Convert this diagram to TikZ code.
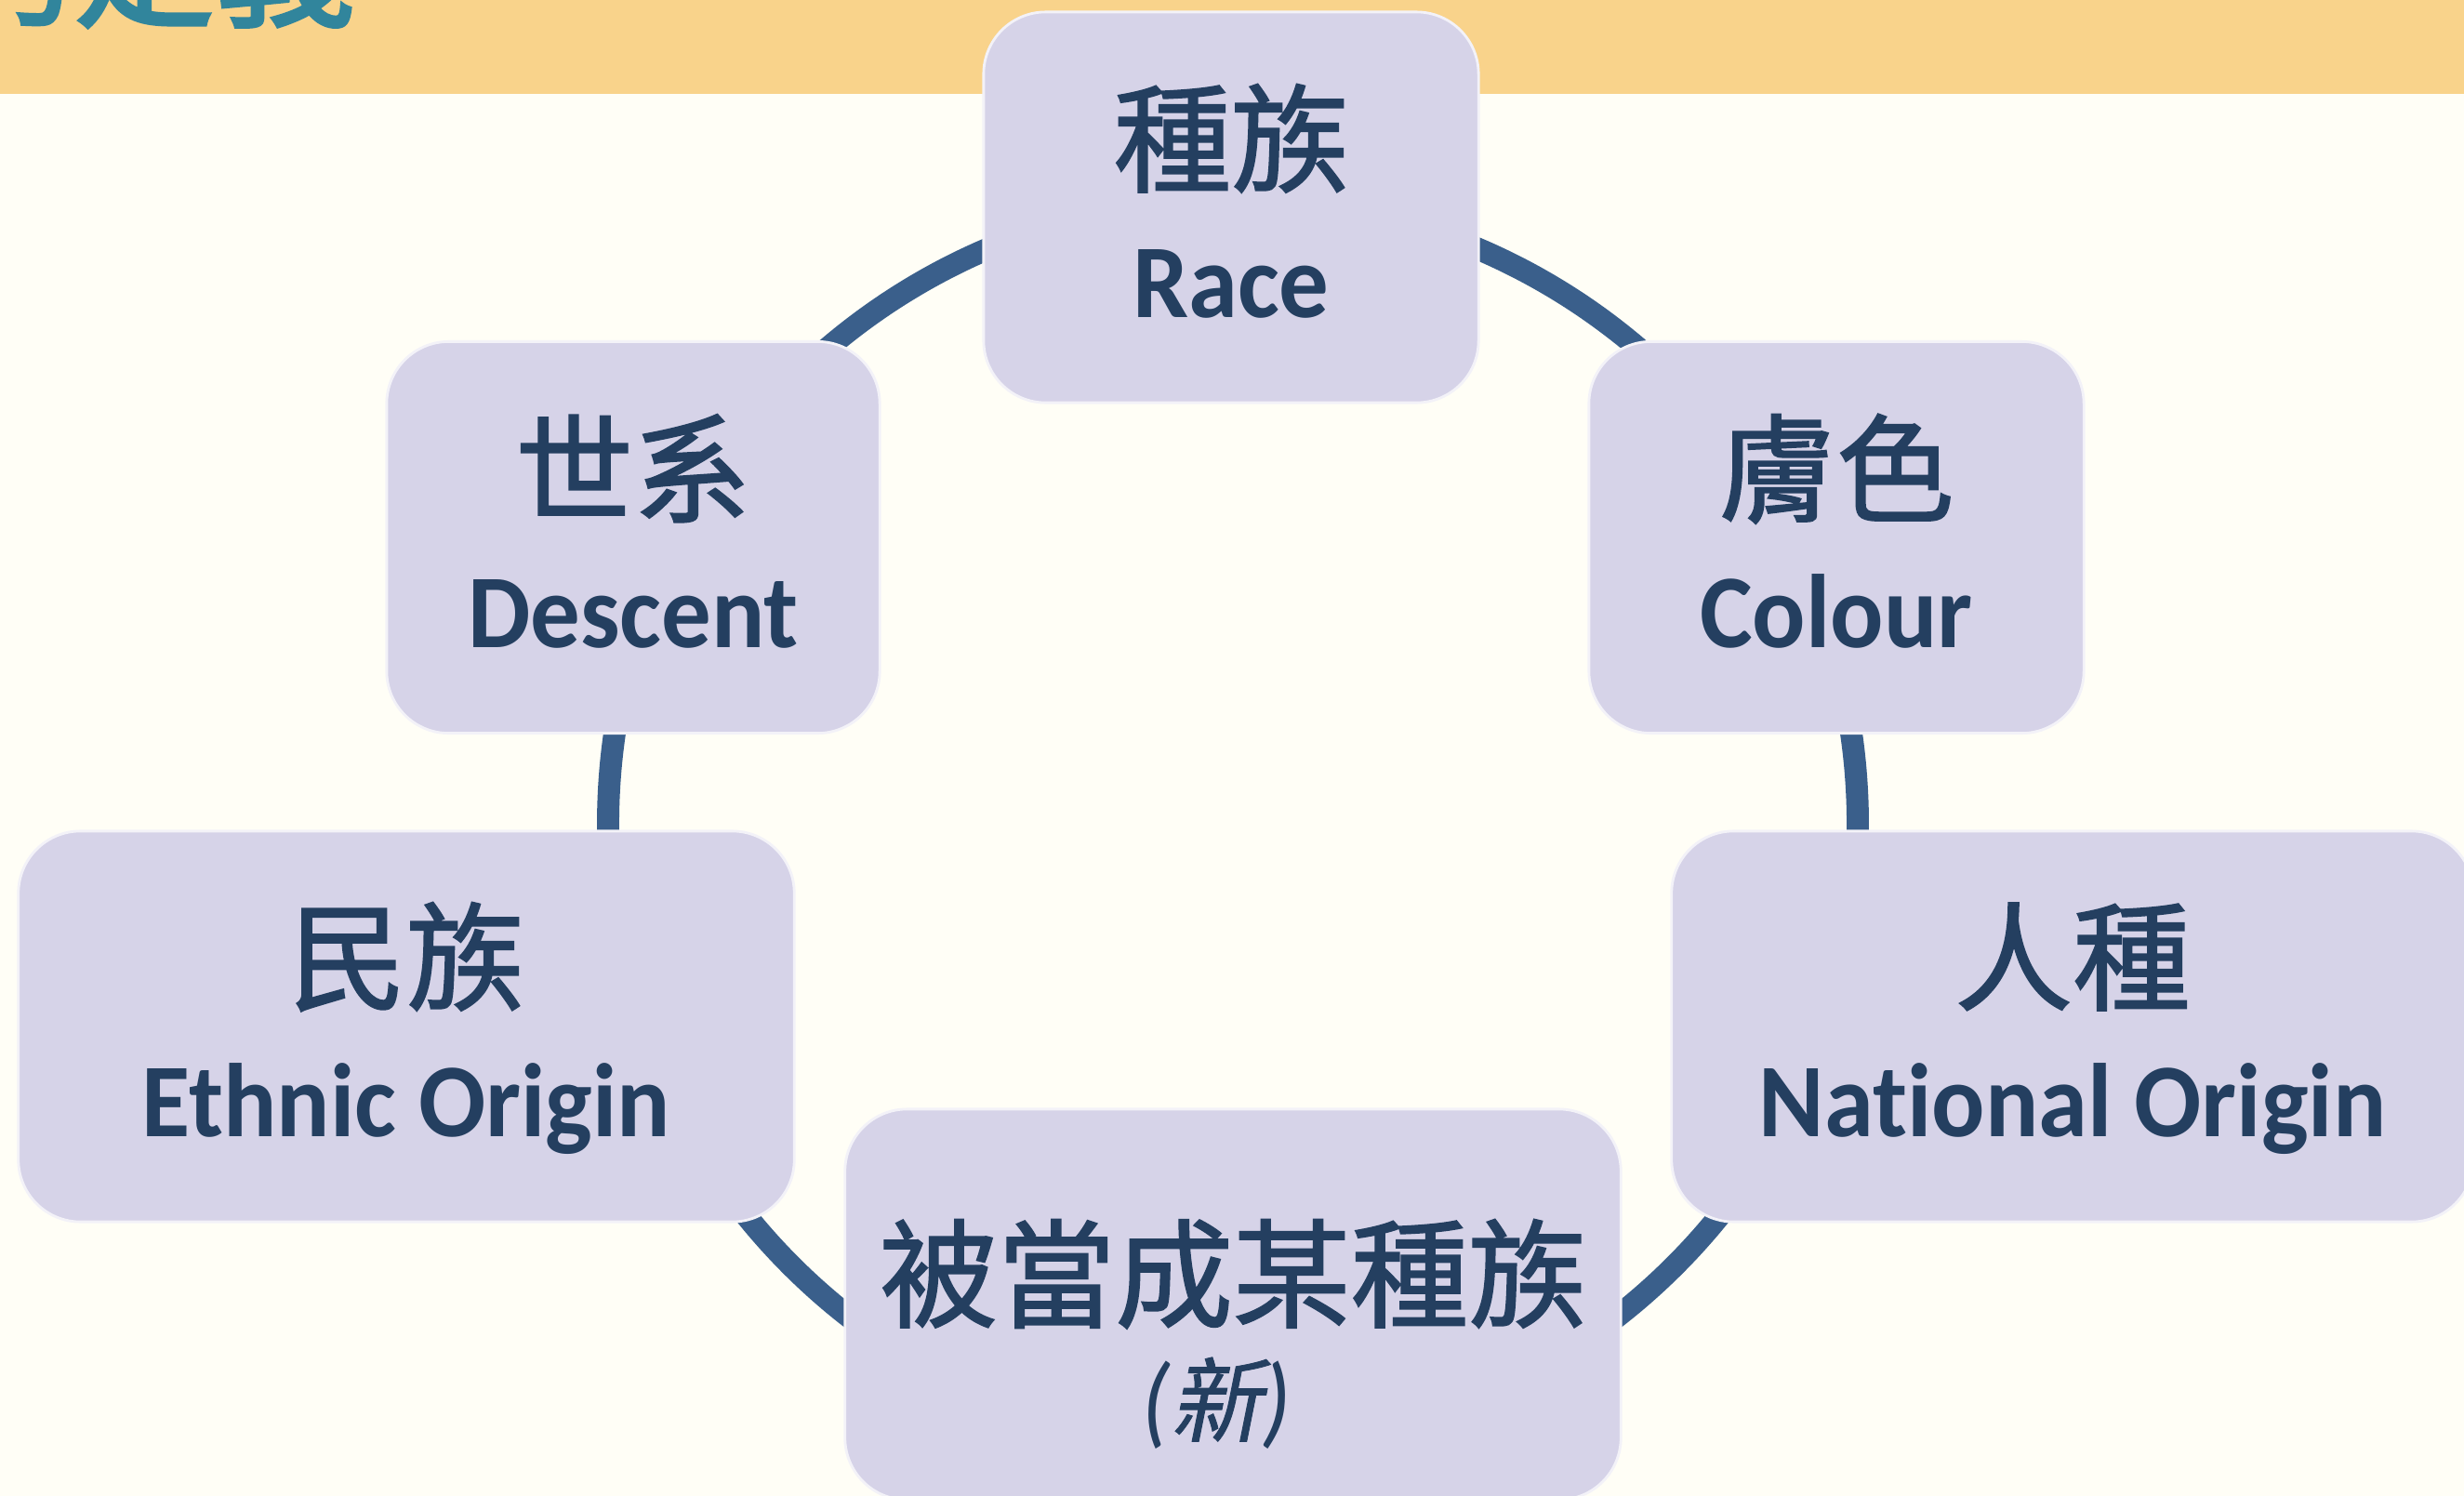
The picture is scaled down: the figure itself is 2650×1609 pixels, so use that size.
\documentclass[tikz,border=0pt]{standalone}
\usepackage{fontspec}
\setmainfont{Carlito}
\newfontfamily\en[FakeStretch=0.95,Ligatures=NoCommon]{Carlito}
\newfontfamily\cjk[FakeBold=1.5]{Noto Sans CJK TC}
\newfontfamily\cjkit[FakeSlant=0.2,FakeBold=0.8]{Noto Sans CJK TC}
\newfontfamily\cjktitle[FakeBold=2.5]{Noto Sans CJK TC}
\usetikzlibrary{calc}
\definecolor{bgc}{HTML}{FFFEF6}
\definecolor{bandc}{HTML}{F9D38B}
\definecolor{boxc}{HTML}{D6D3E8}
\definecolor{txtc}{HTML}{243F60}
\definecolor{ringc}{HTML}{3A5F8B}
\definecolor{titlec}{HTML}{31859C}
\tikzset{
  box/.style={rounded corners=19pt, fill=boxc, draw=white!70!boxc, line width=0.8pt, inner sep=0pt},
  zh/.style={anchor=base, inner sep=0pt, text=txtc, font=\cjk\fontsize{36}{40}\selectfont},
  enl/.style={anchor=base, inner sep=0pt, text=txtc, font=\en\bfseries\fontsize{32}{36}\selectfont},
  ring/.style={draw=ringc, line width=6.8pt},
  titletext/.style={anchor=base west, inner sep=0pt, text=titlec, font=\cjktitle\fontsize{43}{46}\selectfont}
}
\begin{document}
\begin{tikzpicture}[x=0.01cm,y=-0.01cm]
\clip (0,0) rectangle (2650,1609);
\fill[bgc] (0,0) rectangle (2650,1609);
\fill[bandc] (0,0) rectangle (2650,101);
\node[titletext] (title) at (-72,17) {的定義};
\coordinate (ctr) at (1326,886);
\draw[ring] (ctr) circle[radius=672];
% boxes
\node[box, minimum width=5.32cm, minimum height=4.20cm] (race) at (1324,223) {};
\node[box, minimum width=5.30cm, minimum height=4.21cm] (descent) at (681,578) {};
\node[box, minimum width=5.32cm, minimum height=4.21cm] (colour) at (1975,578) {};
\node[box, minimum width=8.34cm, minimum height=4.20cm] (ethnic) at (437,1104) {};
\node[box, minimum width=8.62cm, minimum height=4.20cm] (national) at (2229,1104) {};
\node[box, minimum width=8.34cm, minimum height=4.20cm] (treated) at (1326,1403) {};
% texts
\node[zh] (raceZ) at ($(race.center)+(0,-26)$) {種族};
\node[enl] (raceE) at ($(race.center)+(0,118)$) {Race};
\node[zh] (descentZ) at ($(descent.center)+(0,-26)$) {世系};
\node[enl] (descentE) at ($(descent.center)+(0,118)$) {Descent};
\node[zh] (colourZ) at ($(colour.center)+(0,-26)$) {膚色};
\node[enl] (colourE) at ($(colour.center)+(0,118)$) {Colour};
\node[zh] (ethnicZ) at ($(ethnic.center)+(0,-27)$) {民族};
\node[enl] (ethnicE) at ($(ethnic.center)+(0,118)$) {Ethnic Origin};
\node[zh] (nationalZ) at ($(national.center)+(0,-27)$) {人種};
\node[enl] (nationalE) at ($(national.center)+(0,118)$) {National Origin};
\node[zh] (treatedZ) at ($(treated.center)+(0,15)$) {被當成某種族};
\node[anchor=base, inner sep=0pt, text=txtc] (treatedN) at ($(treated.center)+(-18,140)$)
  {{\en\itshape\fontsize{31}{33}\selectfont(}{\cjkit\fontsize{28}{30}\selectfont 新}{\en\itshape\fontsize{31}{33}\selectfont)}};
\end{tikzpicture}
\end{document}
